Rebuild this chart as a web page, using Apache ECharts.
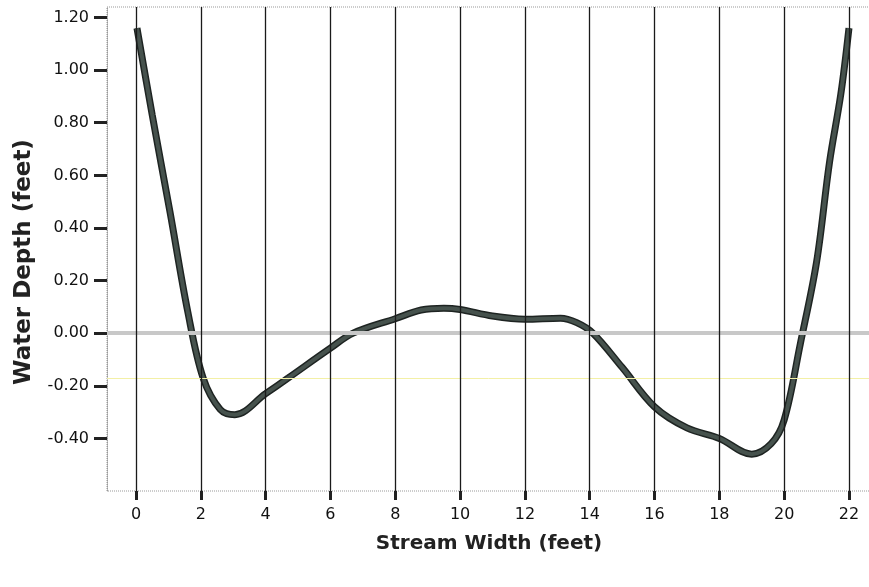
<!DOCTYPE html>
<html>
<head>
<meta charset="utf-8">
<script src="https://cdn.jsdelivr.net/npm/echarts@6/dist/echarts.min.js"></script>
<style>html,body{margin:0;padding:0;background:#fff;}#c{width:869px;height:587px;}</style>
</head>
<body>
<div id="c"></div>
<script>
const widthFt = [0.03,0.5,1.05,1.6,2.07,2.6,3.05,4,4.7,6,6.7,8,8.8,9.5,10,11,12,13.1,13.6,14.1,15,16,17,18,19,19.6,20,20.5,21,21.4,21.75,22.0];
const depthFt = [1.16,0.83,0.46,0.08,-0.17,-0.29,-0.31,-0.23,-0.17,-0.057,0.0,0.055,0.088,0.095,0.09,0.065,0.053,0.057,0.04,0.0,-0.13,-0.28,-0.36,-0.40,-0.46,-0.42,-0.33,-0.04,0.27,0.65,0.91,1.16];
const xTicks = [0,2,4,6,8,10,12,14,16,18,20,22];
const yTicks = [-0.4,-0.2,0,0.2,0.4,0.6,0.8,1.0,1.2];
const zeroLine = 0;
const scanLine = -0.17;

const pts = widthFt.map((x,i)=>[x, depthFt[i]]);
const font = '"DejaVu Sans", "Liberation Sans", Arial, sans-serif';

const chart = echarts.init(document.getElementById('c'), null, {renderer:'canvas'});
chart.setOption({
  animation:false,
  backgroundColor:'#fff',
  grid:{left:107, right:-2, top:7, bottom:96, containLabel:false, outerBoundsMode:'none',
    show:true, borderColor:'#999', borderWidth:1, borderType:'dotted'},
  xAxis:{
    type:'value', min:-0.895, max:22.68,
    axisLine:{show:false, onZero:false},
    splitLine:{show:false},
    axisTick:{show:true, customValues:xTicks, length:9, lineStyle:{color:'#222', width:3}},
    axisLabel:{customValues:xTicks, color:'#111', fontSize:16, fontFamily:font, margin:16},
    name:'Stream Width (feet)', nameLocation:'middle', nameGap:43,
    nameTextStyle:{fontSize:20, fontWeight:'bold', color:'#222', fontFamily:font}
  },
  yAxis:{
    type:'value', min:-0.6, max:1.24,
    axisLine:{show:true, onZero:false, lineStyle:{color:'#999', type:'dotted', width:1}},
    splitLine:{show:false},
    axisTick:{show:true, customValues:yTicks, length:13, lineStyle:{color:'#222', width:3}},
    axisLabel:{customValues:yTicks, color:'#111', fontSize:16, fontFamily:font, margin:18,
      formatter:v=>v.toFixed(2)},
    name:'Water Depth (feet)', nameLocation:'middle', nameGap:71, nameRotate:90,
    nameTextStyle:{fontSize:23, fontWeight:'bold', color:'#222', fontFamily:font, padding:[0,26,0,0]}
  },
  series:[
    {type:'line', data:[], silent:true,
      markLine:{symbol:'none', silent:true, label:{show:false}, animation:false,
        data:[{yAxis:zeroLine, lineStyle:{color:'#c8c8c8', width:4, type:'solid'}},
              {yAxis:scanLine, lineStyle:{color:'#f3f0a6', width:1, type:'solid'}}]}},
    {type:'line', data:[], silent:true,
      markLine:{symbol:'none', silent:true, label:{show:false}, animation:false,
        lineStyle:{color:'#1a1a1a', width:1.3, type:'solid'},
        data:xTicks.map(v=>({xAxis:v}))}},
    {type:'line', data:pts, smooth:0.35, showSymbol:false, silent:true,
      lineStyle:{color:'#1e2422', width:7}},
    {type:'line', data:pts, smooth:0.35, showSymbol:false, silent:true,
      lineStyle:{color:'#46524d', width:4}}
  ]
});
</script>
</body>
</html>
